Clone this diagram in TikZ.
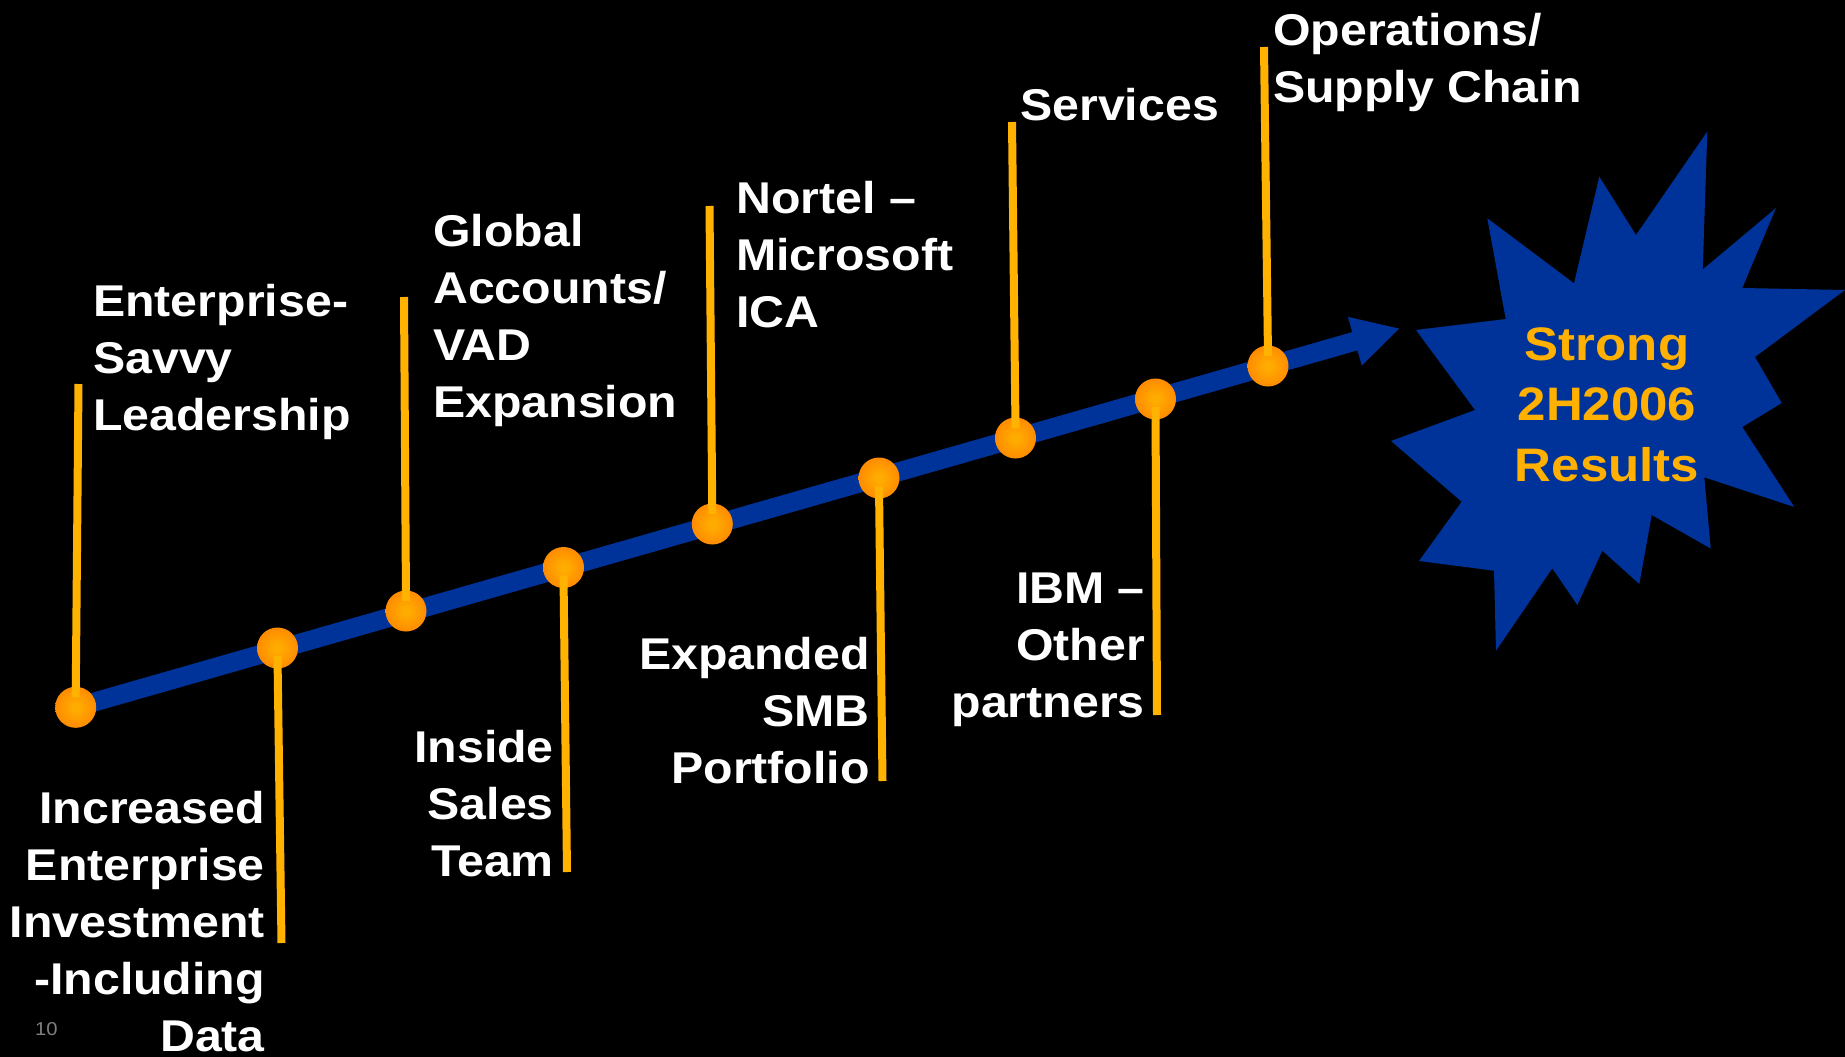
\documentclass[tikz,border=0pt]{standalone}
\usepackage{fontspec}
\setmainfont{Liberation Sans}[FakeStretch=1.085]
\usetikzlibrary{arrows.meta}
\definecolor{bgblue}{RGB}{0,51,153}
\definecolor{ylw}{RGB}{255,179,0}
\definecolor{startxt}{RGB}{255,176,0}
\definecolor{dotin}{RGB}{255,172,0}
\definecolor{dotout}{RGB}{255,100,0}
\definecolor{pgnum}{RGB}{128,128,128}
\pgfdeclareradialshading{dotshade}{\pgfpoint{0bp}{0bp}}{color(0bp)=(dotin); color(4bp)=(dotin); color(50bp)=(dotout)}
\newcommand\tlines[2]{\begin{tabular}[t]{@{}#1@{}}#2\end{tabular}}
\begin{document}
\begin{tikzpicture}[x=1pt,y=-1pt,
  lbl/.style={inner sep=0pt, text=white, font=\bfseries\fontsize{44.5}{57}\selectfont},
  startext/.style={inner sep=0pt, text=startxt, font=\bfseries\fontsize{47}{60.5}\selectfont},
  dot/.style={circle, minimum size=41pt, inner sep=0pt, shading=dotshade},
  stem/.style={draw=ylw, line width=8pt},
  axis/.style={draw=bgblue, line width=19pt, -{Triangle[length=47pt,width=47pt]}}]
\fill[black] (0,0) rectangle (1845,1057);
\useasboundingbox (0,0) rectangle (1845,1057);
% starburst
\fill[bgblue] (1707.3,131.5) -- (1702.7,269.5) -- (1776,208) -- (1742.3,288) -- (1845,290)
  -- (1755,357) -- (1781.7,403) -- (1742.3,427) -- (1794.3,507) -- (1704.3,477.3)
  -- (1710.7,548.5) -- (1651.7,515) -- (1639.3,584) -- (1602.3,550.7) -- (1577.3,605)
  -- (1552.3,568.3) -- (1496,650.7) -- (1494,570.7) -- (1419,561) -- (1461.7,501.7)
  -- (1391,441) -- (1475,410) -- (1416,330) -- (1505.7,319) -- (1487.3,218.3)
  -- (1574,283.3) -- (1599.3,176.7) -- (1636,235) -- cycle;
\node[startext, anchor=base] (res) at (1607,360) {\tlines{c}{Strong\\2H2006\\Results}};
% axis
\coordinate (tip) at (1400,328.3);
\coordinate (start) at (75.7,707.3);
\draw[axis] (start) -- (tip);
% dots
\node[dot] (d1) at (75.7,707.3) {};
\node[dot] (d2) at (277.5,648) {};
\node[dot] (d3) at (406,611) {};
\node[dot] (d4) at (563.5,567.5) {};
\node[dot] (d5) at (712.3,524) {};
\node[dot] (d6) at (879,478) {};
\node[dot] (d7) at (1015.5,438) {};
\node[dot] (d8) at (1155.5,399) {};
\node[dot] (d9) at (1268,366) {};
% stem ends
\coordinate (t1) at (78.5,384);
\coordinate (t2) at (281.5,943);
\coordinate (t3) at (404,297);
\coordinate (t4) at (567,872);
\coordinate (t5) at (709.5,206);
\coordinate (t6) at (882.5,781);
\coordinate (t7) at (1012,122);
\coordinate (t8) at (1157,715);
\coordinate (t9) at (1264,47);
\draw[stem] ([yshift=10pt]d1.center) -- (t1);
\draw[stem] ([yshift=-8pt]d2.center) -- (t2);
\draw[stem] ([yshift=10pt]d3.center) -- (t3);
\draw[stem] ([yshift=-8pt]d4.center) -- (t4);
\draw[stem] ([yshift=10pt]d5.center) -- (t5);
\draw[stem] ([yshift=-8pt]d6.center) -- (t6);
\draw[stem] ([yshift=10pt]d7.center) -- (t7);
\draw[stem] ([yshift=-8pt]d8.center) -- (t8);
\draw[stem] ([yshift=10pt]d9.center) -- (t9);
% labels
\node[lbl, anchor=base west] (l1) at (93,316) {\tlines{l}{Enterprise-\\Savvy\\Leadership}};
\node[lbl, anchor=base east] (l2) at (265,823) {\tlines{r}{Increased\\Enterprise\\Investment\\-Including\\Data}};
\node[lbl, anchor=base west] (l3) at (433,246) {\tlines{l}{Global\\Accounts/\\VAD\\Expansion}};
\node[lbl, anchor=base east] (l4) at (554,762) {\tlines{r}{Inside\\Sales\\Team}};
\node[lbl, anchor=base west] (l5) at (736,213) {\tlines{l}{Nortel –\\Microsoft\\ICA}};
\node[lbl, anchor=base east] (l6) at (870,669) {\tlines{r}{Expanded\\SMB\\Portfolio}};
\node[lbl, anchor=base west] (l7) at (1020,121) {Services};
\node[lbl, anchor=base east] (l8) at (1145,603) {\tlines{r}{IBM –\\Other\\partners}};
\node[lbl, anchor=base west] (l9) at (1273,46) {\tlines{l}{Operations/\\Supply Chain}};
\node[inner sep=0pt, anchor=base west, text=pgnum, font=\fontsize{18.6}{22}\selectfont] (pg) at (35,1035) {10};
\end{tikzpicture}
\end{document}
